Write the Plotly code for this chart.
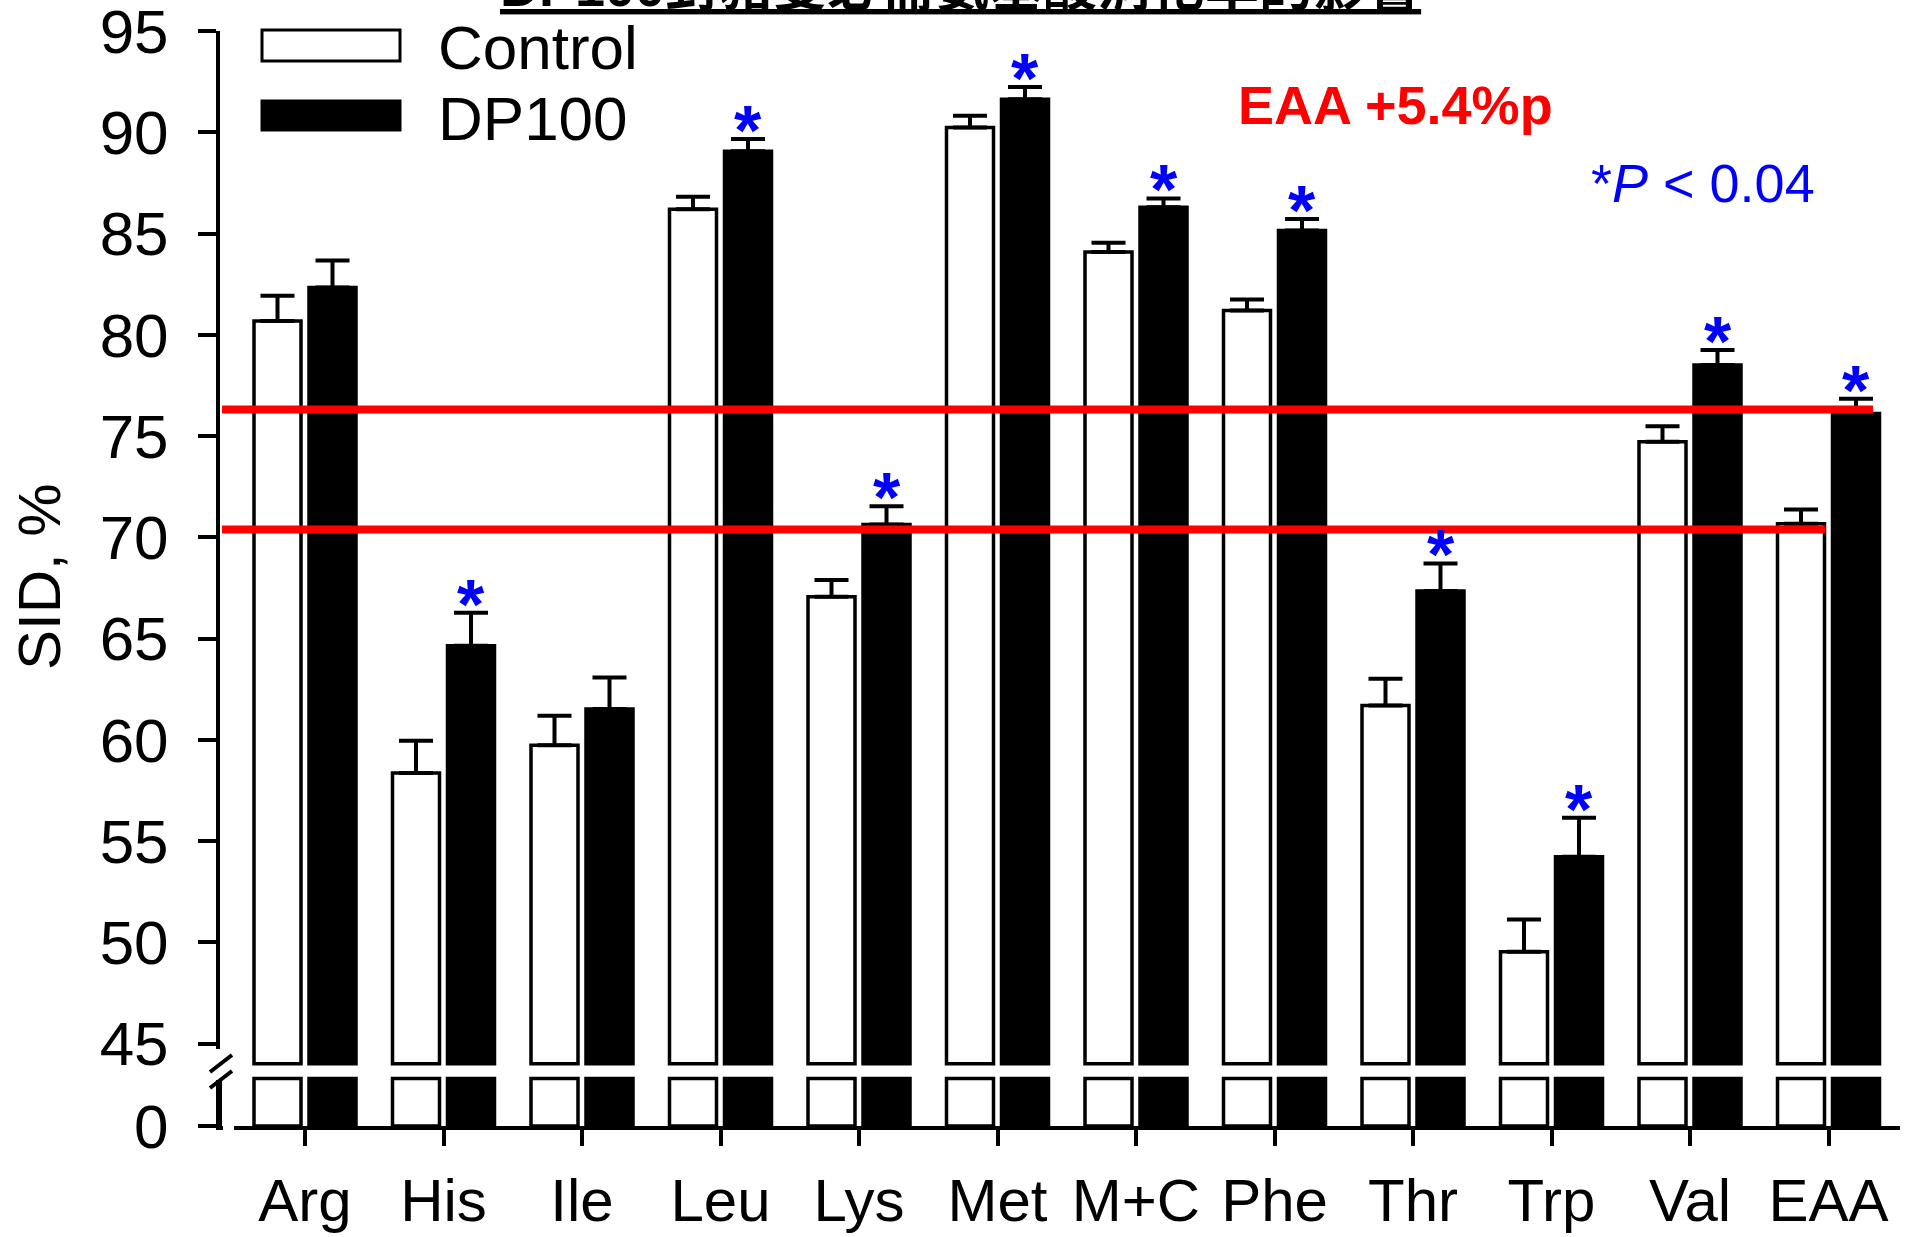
import plotly.graph_objects as go

# ---------------- data ----------------
categories = ["Arg", "His", "Ile", "Leu", "Lys", "Met", "M+C", "Phe", "Thr", "Trp", "Val", "EAA"]
control = [80.69, 58.36, 59.73, 86.21, 67.07, 90.24, 84.10, 81.21, 61.70, 49.53, 74.72, 70.67]
control_se = [1.24, 1.59, 1.46, 0.61, 0.82, 0.58, 0.45, 0.54, 1.32, 1.60, 0.77, 0.71]
dp100 = [82.34, 64.65, 61.52, 89.07, 70.64, 91.64, 86.31, 85.16, 67.35, 54.23, 78.51, 76.12]
dp100_se = [1.34, 1.62, 1.56, 0.60, 0.90, 0.61, 0.43, 0.57, 1.36, 1.92, 0.74, 0.72]
significant = [False, True, False, True, True, True, True, True, True, True, True, True]
eaa_lines = [70.39, 76.32]
upper_ticks = [45, 50, 55, 60, 65, 70, 75, 80, 85, 90, 95]
lower_ticks = [0]

# ---------------- layout constants ----------------
W, H = 1910, 1237
FONT = "Liberation Sans, Arial, sans-serif"
FS = 62
SCALE = 20.25          # px per unit on the y axes
UP_TOP_PX, UP_BOT_PX = 31, 1070
LOW_TOP_PX, LOW_BOT_PX = 1075, 1126
BREAK_BASE = 44
LOW_CAP = 2.35
X_LEFT_PX, X_RIGHT_PX = 220, 1900
FIRST_PX, PITCH = 305, 138.5
BARGAP, BARGROUPGAP = 0.2057, 0.1455


def fx(p):
    return p / W


def fy(p):
    return 1 - p / H


up_range = [95 - (UP_BOT_PX - UP_TOP_PX) / SCALE, 95.01]
low_range = [0, (LOW_BOT_PX - LOW_TOP_PX) / SCALE]
x_range = [(X_LEFT_PX - FIRST_PX) / PITCH, (X_RIGHT_PX - FIRST_PX) / PITCH]
dp_offset = (1 - BARGAP) / 4

n = len(categories)
err_style = dict(type="data", symmetric=False, arrayminus=[0] * n,
                 color="black", thickness=4, width=17)

fig = go.Figure()
# upper segment
fig.add_trace(go.Bar(x=categories, y=[v - BREAK_BASE for v in control], base=BREAK_BASE,
                     marker=dict(color="white", line=dict(color="black", width=3.5)),
                     error_y=dict(array=control_se, **err_style),
                     xaxis="x", yaxis="y", showlegend=False, name="Control"))
fig.add_trace(go.Bar(x=categories, y=[v - BREAK_BASE for v in dp100], base=BREAK_BASE,
                     marker=dict(color="black", line=dict(color="black", width=3.5)),
                     error_y=dict(array=dp100_se, **err_style),
                     xaxis="x", yaxis="y", showlegend=False, name="DP100"))
# lower segment (below the axis break)
fig.add_trace(go.Bar(x=categories, y=[min(v, LOW_CAP) for v in control],
                     marker=dict(color="white", line=dict(color="black", width=3.5)),
                     xaxis="x", yaxis="y2", showlegend=False, name="Control"))
fig.add_trace(go.Bar(x=categories, y=[min(v, LOW_CAP) for v in dp100],
                     marker=dict(color="black", line=dict(color="black", width=3.5)),
                     xaxis="x", yaxis="y2", showlegend=False, name="DP100"))

axis_common = dict(showline=True, linecolor="black", linewidth=4, ticks="outside",
                   tickwidth=4, tickcolor="black", showgrid=False, zeroline=False,
                   automargin=False, ticklabeloverflow="allow")

shapes = []
# EAA reference lines
line_ends = [10.975, 11.321]
for val, xe in zip(eaa_lines, line_ends):
    shapes.append(dict(type="line", xref="x", yref="y", x0=-0.599, x1=xe, y0=val, y1=val,
                       line=dict(color="#FF0000", width=8), layer="above"))
# axis break
shapes.append(dict(type="rect", xref="paper", yref="paper", x0=fx(208), x1=fx(232),
                   y0=fy(1080), y1=fy(1049), fillcolor="white", line=dict(width=0), layer="above"))
shapes.append(dict(type="rect", xref="paper", yref="paper", x0=fx(223), x1=fx(234),
                   y0=fy(1132), y1=fy(1120), fillcolor="white", line=dict(width=0), layer="above"))
shapes.append(dict(type="line", xref="paper", yref="paper", x0=fx(210), x1=fx(232),
                   y0=fy(1072), y1=fy(1055), line=dict(color="black", width=4), layer="above"))
shapes.append(dict(type="line", xref="paper", yref="paper", x0=fx(210), x1=fx(232),
                   y0=fy(1088), y1=fy(1071), line=dict(color="black", width=4), layer="above"))
shapes.append(dict(type="line", xref="paper", yref="paper", x0=fx(220), x1=fx(220),
                   y0=fy(1080), y1=fy(1126), line=dict(color="black", width=4), layer="above"))
# legend swatches
shapes.append(dict(type="rect", xref="paper", yref="paper", x0=fx(262), x1=fx(400),
                   y0=fy(61), y1=fy(30), fillcolor="white", line=dict(color="black", width=3)))
shapes.append(dict(type="rect", xref="paper", yref="paper", x0=fx(262), x1=fx(400),
                   y0=fy(130), y1=fy(101), fillcolor="black", line=dict(color="black", width=3)))

annotations = []
for i in range(n):
    if significant[i]:
        annotations.append(dict(x=i + dp_offset, y=dp100[i] + dp100_se[i], xref="x", yref="y",
                                text="<b>*</b>", showarrow=False, yanchor="bottom", yshift=-33,
                                font=dict(family=FONT, size=70, color="#0000FF")))
annotations += [
    dict(x=fx(436), y=fy(48), xref="paper", yref="paper", text="Control", showarrow=False,
         xanchor="left", yanchor="middle", font=dict(family=FONT, size=62, color="black")),
    dict(x=fx(436), y=fy(118), xref="paper", yref="paper", text="DP100", showarrow=False,
         xanchor="left", yanchor="middle", font=dict(family=FONT, size=62, color="black")),
    dict(x=fx(1236), y=fy(105), xref="paper", yref="paper", text="<b>EAA +5.4%p</b>",
         showarrow=False, xanchor="left", yanchor="middle",
         font=dict(family=FONT, size=54, color="#FF0000")),
    dict(x=fx(1703), y=fy(183), xref="paper", yref="paper", text="*<i>P</i> < 0.04",
         showarrow=False, xanchor="center", yanchor="middle",
         font=dict(family=FONT, size=54, color="#0000FF")),
    dict(x=fx(40), y=fy(577), xref="paper", yref="paper", text="SID, %", textangle=-90,
         showarrow=False, xanchor="center", yanchor="middle",
         font=dict(family=FONT, size=60, color="black")),
    dict(x=fx(960), y=fy(19), xref="paper", yref="paper",
         text="<b><u>DP100對豬隻必需氨基酸消化率的影響</u></b>",
         showarrow=False, xanchor="center", yanchor="bottom",
         font=dict(family="Liberation Sans, Arial, Noto Sans CJK TC", size=54, color="black")),
]

fig.update_layout(
    width=W, height=H, autosize=False,
    margin=dict(l=0, r=0, t=0, b=0, pad=0, autoexpand=False),
    paper_bgcolor="white", plot_bgcolor="white",
    barmode="group", bargap=BARGAP, bargroupgap=BARGROUPGAP,
    showlegend=False,
    xaxis=dict(domain=[fx(X_LEFT_PX), fx(X_RIGHT_PX)], range=x_range, anchor="y2",
               type="category", ticklen=16, ticklabelstandoff=3,
               tickfont=dict(family=FONT, size=60, color="black"), **axis_common),
    yaxis=dict(domain=[fy(UP_BOT_PX), fy(UP_TOP_PX)], range=up_range, anchor="x",
               tickvals=upper_ticks, ticklen=18, ticklabelstandoff=17,
               tickfont=dict(family=FONT, size=FS, color="black"), **axis_common),
    yaxis2=dict(domain=[fy(LOW_BOT_PX), fy(LOW_TOP_PX)], range=low_range, anchor="x",
                tickvals=lower_ticks, ticklen=18, ticklabelstandoff=17,
                tickfont=dict(family=FONT, size=FS, color="black"), **axis_common),
    shapes=shapes, annotations=annotations,
)

fig.write_html("out.html")
